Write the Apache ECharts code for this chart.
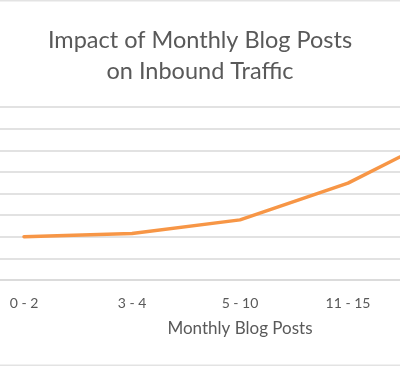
<!DOCTYPE html>
<html>
<head>
<meta charset="utf-8">
<script src="https://cdn.jsdelivr.net/npm/echarts@6/dist/echarts.min.js"></script>
<style>
  html, body { margin: 0; padding: 0; background: #fff; }
  #chart { width: 400px; height: 367px; }
</style>
</head>
<body>
<div id="chart"></div>
<script>
const titleLines = ['Impact of Monthly Blog Posts', 'on Inbound Traffic'];
const categories = ['0 - 2', '3 - 4', '5 - 10', '11 - 15', '16+'];
const trafficValues = [2.0, 2.15, 2.78, 4.48, 7.0];
const xAxisName = 'Monthly Blog Posts';

const chart = echarts.init(document.getElementById('chart'), null, { renderer: 'canvas' });
const font = 'Lato, "Open Sans", sans-serif';
chart.setOption({
  animation: false,
  backgroundColor: '#ffffff',
  title: {
    text: titleLines.join('\n'),
    left: 'center',
    top: 20,
    textStyle: { fontFamily: font, fontSize: 23.5, fontWeight: 'normal', color: '#595959', lineHeight: 31 }
  },
  graphic: [
    { type: 'rect', shape: { x: 0, y: 0, width: 400, height: 1.5 }, style: { fill: '#e3e3e3' }, silent: true },
    { type: 'rect', shape: { x: 0, y: 364.5, width: 400, height: 1.5 }, style: { fill: '#e3e3e3' }, silent: true }
  ],
  grid: { left: -30, width: 540, top: 107, bottom: 87, containLabel: false, outerBoundsMode: 'none' },
  xAxis: {
    type: 'category',
    data: categories,
    boundaryGap: true,
    axisLine: { show: true, lineStyle: { color: '#d9d9d9', width: 1.5 } },
    axisTick: { show: false },
    axisLabel: { fontFamily: font, fontSize: 14, color: '#595959', margin: 16, interval: 0 },
    name: xAxisName,
    nameLocation: 'middle',
    nameGap: 40,
    nameTextStyle: { fontFamily: font, fontSize: 17, color: '#595959' }
  },
  yAxis: {
    type: 'value',
    min: 0,
    max: 8,
    interval: 1,
    axisLabel: { show: false },
    axisLine: { show: false },
    axisTick: { show: false },
    splitLine: { show: true, lineStyle: { color: '#d9d9d9', width: 1.5 } }
  },
  series: [{
    type: 'line',
    data: trafficValues,
    symbol: 'none',
    lineStyle: { color: '#f79646', width: 3.5, cap: 'round', join: 'round' },
    itemStyle: { color: '#f79646' }
  }]
});
</script>
</body>
</html>
